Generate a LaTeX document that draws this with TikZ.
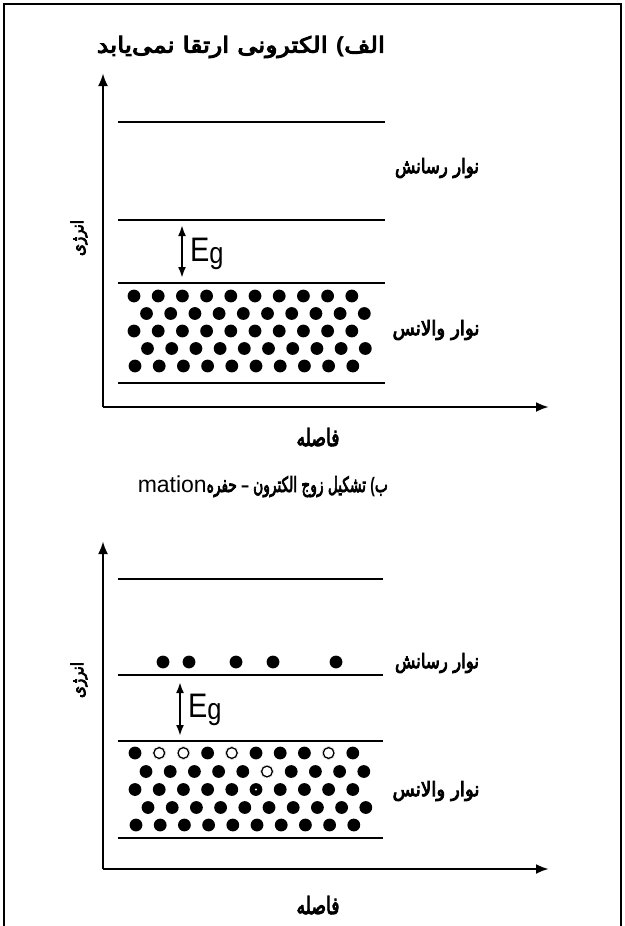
\documentclass[tikz,border=0pt]{standalone}
\usepackage{fontspec}
\usepackage{graphicx}
\TeXXeTstate=1
\setmainfont{Liberation Sans}
\newfontfamily\ar[Script=Arabic,FakeBold=4.5]{DejaVu Sans}
\newfontfamily\lat{Liberation Sans}
\newfontfamily\latb{Liberation Sans Bold}
\usetikzlibrary{arrows.meta}
\newcommand{\fitwh}[3]{\resizebox*{#1pt}{#2pt}{#3}}
\tikzset{
  axisline/.style={line width=2.6pt,-{Latex[length=13pt,width=10pt]}},
  bandline/.style={line width=1.9pt},
  gaparrow/.style={line width=2.2pt,{Latex[length=11pt,width=8pt]}-{Latex[length=11pt,width=8pt]}},
  txt/.style={inner sep=0pt,font=\ar},
  egtxt/.style={inner sep=0pt,anchor=west,font=\lat},
  framel/.style={line width=1.4pt},
}
\newcommand{\Eg}{\scalebox{0.85}[1]{\fontsize{34}{36}\selectfont E\raisebox{-2pt}{\fontsize{30}{32}\selectfont g}}}
\begin{document}
\begin{tikzpicture}[x=1pt,y=-1pt]
\useasboundingbox (0,0) rectangle (624,926);
% frame
\coordinate (fbl) at (4,926);
\coordinate (ftl) at (4,4);
\coordinate (ftr) at (621,4);
\coordinate (fbr) at (621,926);
\draw[framel] (fbl) -- (ftl) -- (ftr) -- (fbr);

% ================= panel a =================
\node[txt] (ta) at (241,47) {\fitwh{288}{22}{\beginR الف{\latb (} الکترونی ارتقا نمی‌یابد\endR}};
\coordinate (oa) at (103,407);
\coordinate (ya) at (103,73);
\coordinate (xa) at (549,407);
\draw[axisline] (oa) -- (ya);
\draw[axisline] (oa) -- (xa);
\foreach \n/\y in {1/122,2/220,3/283,4/383}{
  \coordinate (la\n l) at (118,\y);
  \coordinate (la\n r) at (385,\y);
  \draw[bandline] (la\n l) -- (la\n r);
}
\coordinate (ega1) at (182,225);
\coordinate (ega2) at (182,278);
\draw[gaparrow] (ega1) -- (ega2);
\node[egtxt] (ega) at (190,254) {\Eg};
\node[txt] (cba) at (437,168) {\fitwh{84}{20}{\beginR نوار رسانش\endR}};
\node[txt] (vba) at (436,330) {\fitwh{87}{20}{\beginR نوار والانس\endR}};
\node[txt,rotate=90] (ena) at (79,238) {\fitwh{36}{17}{\beginR انرژی\endR}};
\node[txt] (dia) at (318,437) {\fitwh{43}{18}{\beginR فاصله\endR}};
\foreach \r/\y/\xs in {1/296/134,2/313.5/146.5,3/331/134,4/348.5/147.5,5/366/135}{
  \foreach \c in {0,...,9}{
    \fill ({\xs+24.2*\c},\y) circle (6.4);
  }
}

% ================= panel b =================
\node[txt,anchor=base east] (tb) at (388,492) {{\lat\fontsize{23}{25}\selectfont mation}\fitwh{181}{21}{\beginR ب{\latb (} تشکیل زوج الکترون {\latb –} حفره\endR}};
\coordinate (ob) at (103,869);
\coordinate (yb) at (103,541);
\coordinate (xb) at (549,869);
\draw[axisline] (ob) -- (yb);
\draw[axisline] (ob) -- (xb);
\foreach \n/\y in {1/579,2/675,3/741,4/838}{
  \coordinate (lb\n l) at (118,\y);
  \coordinate (lb\n r) at (383,\y);
  \draw[bandline] (lb\n l) -- (lb\n r);
}
\coordinate (egb1) at (180,682);
\coordinate (egb2) at (180,736);
\draw[gaparrow] (egb1) -- (egb2);
\node[egtxt] (egb) at (188,710) {\Eg};
\node[txt] (cbb) at (437,663) {\fitwh{84}{20}{\beginR نوار رسانش\endR}};
\node[txt] (vbb) at (436,791) {\fitwh{87}{20}{\beginR نوار والانس\endR}};
\node[txt,rotate=90] (enb) at (79,680) {\fitwh{36}{17}{\beginR انرژی\endR}};
\node[txt] (dib) at (318,905) {\fitwh{43}{18}{\beginR فاصله\endR}};
% conduction electrons
\foreach \x in {163,189,236,273,336}{
  \fill (\x,662) circle (6.4);
}
% valence band
\foreach \r/\y/\xs in {1/753/135,2/771.5/146,3/789.5/135,4/807.5/148,5/825/136}{
  \foreach \c in {0,...,9}{
    \fill ({\xs+24.2*\c},\y) circle (6.4);
  }
}
% holes
\foreach \x/\y in {159.2/753,183.4/753,231.8/753,328.6/753,267/771.5}{
  \fill[white] (\x,\y) circle (6.6);
  \draw[line width=1.3pt] (\x,\y) circle (5.4);
}
\fill[white] (256,789.5) circle (1.2);
\end{tikzpicture}
\end{document}
